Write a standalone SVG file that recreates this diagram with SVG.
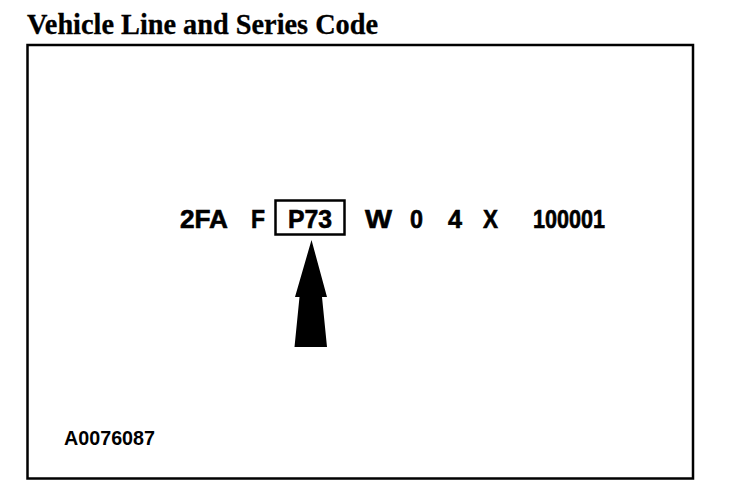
<svg xmlns="http://www.w3.org/2000/svg" width="736" height="494" viewBox="0 0 736 494">
<style>
.code{font-family:"Liberation Sans",Arial,sans-serif;font-weight:bold;font-size:25px;fill:#000;stroke:#000;stroke-width:0.6}
.title{font-family:"Liberation Serif","Times New Roman",serif;font-weight:bold;font-size:29px;fill:#000;stroke:#000;stroke-width:0.3}
.ref{font-family:"Liberation Sans",Arial,sans-serif;font-weight:bold;font-size:20px;fill:#000}
</style>
<rect width="736" height="494" fill="#fff"/>
<text class="title" x="27" y="34" textLength="351" lengthAdjust="spacingAndGlyphs">Vehicle Line and Series Code</text>
<rect id="frame" x="27.5" y="45" width="665.5" height="433.5" fill="none" stroke="#000" stroke-width="2.5"/>
<g id="code">
<text class="code" x="180" y="228" textLength="48" lengthAdjust="spacingAndGlyphs">2FA</text>
<text class="code" x="251" y="228" textLength="14" lengthAdjust="spacingAndGlyphs">F</text>
<text class="code" x="288" y="228" textLength="44" lengthAdjust="spacingAndGlyphs">P73</text>
<text class="code" x="365" y="228" textLength="27" lengthAdjust="spacingAndGlyphs">W</text>
<text class="code" x="410" y="228" textLength="13" lengthAdjust="spacingAndGlyphs">0</text>
<text class="code" x="448" y="228" textLength="14" lengthAdjust="spacingAndGlyphs">4</text>
<text class="code" x="483" y="228" textLength="15" lengthAdjust="spacingAndGlyphs">X</text>
<text class="code" x="533" y="228" textLength="72" lengthAdjust="spacingAndGlyphs">100001</text>
</g>
<g id="highlight">
<rect x="275.5" y="200.5" width="69" height="34" fill="none" stroke="#000" stroke-width="2.5"/>
</g>
<g id="connectors">
<path d="M311.5,240 L327,297 L322,297 L327,347 L294.5,347 L299.5,297 L295,297 Z" fill="#000"/>
</g>
<text class="ref" x="64" y="445" textLength="91" lengthAdjust="spacingAndGlyphs">A0076087</text>
</svg>
